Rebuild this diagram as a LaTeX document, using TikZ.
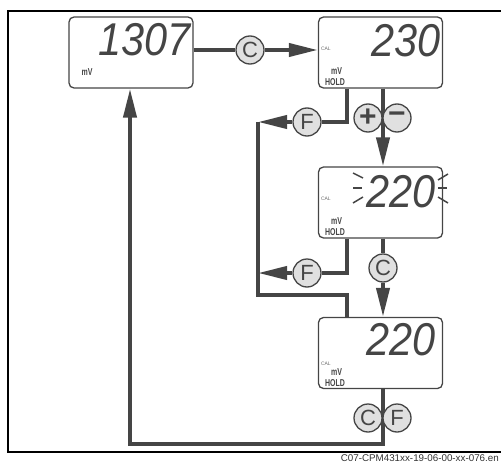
\documentclass[tikz,border=0pt]{standalone}
\usepackage{fontspec}
\setmainfont{Liberation Sans}
\usetikzlibrary{positioning, arrows.meta, backgrounds}
\definecolor{lcdgray}{HTML}{454545}
\definecolor{keyfill}{HTML}{E0E0E0}

\begin{document}
\begin{tikzpicture}[x=1pt, y=-1pt,
    display/.style={draw=lcdgray, line width=1.3pt, rounded corners=5pt,
      minimum width=124pt, minimum height=71pt, inner sep=0pt},
    key/.style={circle, draw=lcdgray, fill=keyfill, line width=1.3pt,
      minimum size=28pt, inner sep=0pt, text=lcdgray,
      font=\fontsize{22}{22}\selectfont},
    sign/.style={key, font=\fontsize{30}{30}\selectfont\bfseries},
    digits/.style={anchor=base east, inner sep=0pt, text=lcdgray,
      font=\fontsize{46}{46}\selectfont\itshape},
    unit/.style={anchor=base west, inner sep=0pt, text=lcdgray,
      font=\fontsize{10}{10}\selectfont\bfseries},
    cal/.style={anchor=base west, inner sep=0pt, text=lcdgray!80,
      font=\fontsize{5}{5}\selectfont},
    flow/.style={draw=lcdgray, line width=4pt},
    arrowline/.style={flow, -{Triangle[length=29pt, width=13pt]}}]
  \useasboundingbox (0,0) rectangle (501,463);

  % frame and drawing number
  \draw[line width=1.2pt] (505,11) -- (8,11) -- (8,452) -- (505,452);
  \node[anchor=base east, inner sep=0pt, text=black!80,
    font=\fontsize{9.8}{9.8}\selectfont] (drawno) at (499,461)
    {C07-CPM431xx-19-06-00-xx-076.en};

  % displays
  \node[display] (box1) at (131,52.5) {};
  \node[display] (box2) at (380.5,52.5) {};
  \node[display] (box3) at (380.5,202.5) {};
  \node[display] (box4) at (380.5,353) {};

  \node[digits] (val1) at (191,55) {\scalebox{0.9}[1]{1307}};
  \node[digits] (val2) at (441,56) {\scalebox{0.9}[1]{230}};
  \node[digits] (val3) at (436,207) {\scalebox{0.9}[1]{220}};
  \node[digits] (val4) at (436,355) {\scalebox{0.9}[1]{220}};

  \node[unit] (mv1) at ([shift={(13,-13)}]box1.south west) {\scalebox{0.7}[1]{mV}};
  \foreach \b/\c in {box2/-38, box3/-38, box4/-24} {
    \node[cal] at ([shift={(3,\c)}]\b.south west) {CAL};
    \node[unit] at ([shift={(13,-14)}]\b.south west) {\scalebox{0.7}[1]{mV}};
    \node[unit] at ([shift={(7,-3)}]\b.south west) {\scalebox{0.7}[1]{HOLD}};
  }

  % blinking value
  \foreach \a/\b/\c/\d in {353/173/363/178, 353/188/362/188, 353/203/363/197,
                           438/180/448/174, 438/188/447/188, 438/197/448/203}
    \draw[lcdgray, line width=1.5pt] (\a,\b) -- (\c,\d);

  % keys
  \node[key] (keyC1) at (250,50) {C};
  \node[sign] (plus) at (368,118) {+};
  \node[sign] (minus) at (397,118) {\raisebox{1pt}{−}};
  \node[key] (keyF1) at (307,122) {F};
  \node[key] (keyF2) at (307,273) {F};
  \node[key] (keyC2) at (383,268) {C};
  \node[key] (keyC3) at (368,418) {C};
  \node[key] (keyF3) at (397,418) {F};

  \coordinate (col) at (383,0);
  \coordinate (fcol) at (347,0);
  \coordinate (rail) at (258,0);
  \coordinate (railbot) at (347,295);
  \coordinate (retbot) at (130,444);

  \begin{scope}[on background layer]
    \draw[flow] (box1.east |- keyC1) -- (keyC1);
    \draw[arrowline] (keyC1) -- (box2.west |- keyC1);
    \draw[arrowline] (box2.south -| col) -- (box3.north -| col);
    \draw[flow] (box2.south -| fcol) |- (keyF1);
    \draw[arrowline] (keyF1) -- (keyF1 -| rail);
    \draw[flow] (keyF1 -| rail) |- (railbot) -- (box4.north -| railbot);
    \draw[flow] (box3.south -| fcol) |- (keyF2);
    \draw[arrowline] (keyF2) -- (keyF2 -| rail);
    \draw[flow] (box3.south -| col) -- (keyC2);
    \draw[arrowline] (keyC2) -- (box4.north -| col);
    \draw[arrowline] (box4.south -| col) |- (retbot) -- (box1.south -| retbot);
  \end{scope}
\end{tikzpicture}
\end{document}
